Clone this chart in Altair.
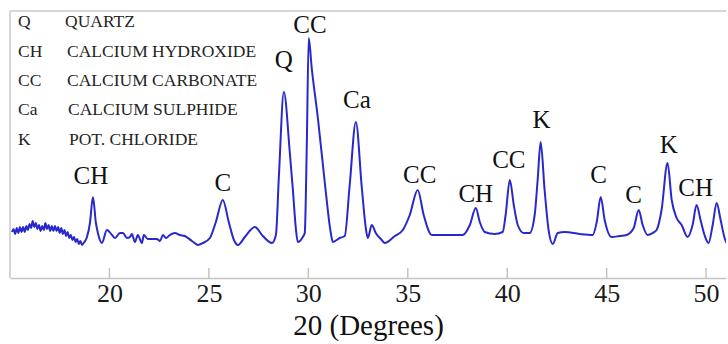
import altair as alt
import pandas as pd

# ---- data (2-theta in degrees, relative intensity) ----
two_theta = [
    15.10, 15.18, 15.26, 15.34, 15.42, 15.50, 15.58, 15.66, 15.74, 15.82,
    15.90, 15.98, 16.06, 16.14, 16.22, 16.30, 16.38, 16.46, 16.54, 16.62,
    16.70, 16.78, 16.86, 16.94, 17.02, 17.10, 17.18, 17.26, 17.34, 17.42,
    17.50, 17.58, 17.66, 17.74, 17.82, 17.90, 17.98, 18.06, 18.14, 18.22,
    18.30, 18.38, 18.46, 18.54, 18.62, 18.70, 18.78, 18.87,
    19.02, 19.17, 19.32, 19.42, 19.52, 19.62,
    19.87, 20.13, 20.28, 20.53, 20.68, 20.88, 21.03, 21.13, 21.28, 21.43,
    21.63, 21.73, 21.93, 22.39, 22.54, 22.69, 22.84, 23.04, 23.29, 23.54,
    23.79, 24.15, 24.45, 24.70, 25.05, 25.35, 25.70, 26.00, 26.26, 26.46,
    26.81, 27.31, 27.71, 28.17, 28.37, 28.52, 28.77, 29.07, 29.22, 29.37,
    29.47, 29.72, 29.82, 29.92, 30.02, 30.17, 30.48, 30.83, 31.13, 31.23,
    31.58, 31.83, 32.08, 32.39, 32.69, 32.89, 32.99, 33.19, 33.39, 33.69,
    33.84, 34.35, 34.75, 35.10, 35.50, 35.80, 36.21, 37.11, 37.76, 38.12,
    38.42, 38.62, 38.87, 39.37, 39.77, 39.92, 40.13, 40.33, 40.53, 40.83,
    41.13, 41.38, 41.53, 41.68, 41.88, 42.08, 42.29, 42.54, 42.89, 43.64,
    44.30, 44.50, 44.70, 44.90, 45.25, 45.65, 46.00, 46.36, 46.61, 46.81,
    47.06, 47.31, 47.51, 47.76, 48.06, 48.27, 48.52, 48.77, 49.07, 49.32,
    49.52, 49.72, 49.92, 50.12, 50.33, 50.53, 50.73, 50.93, 51.08,
]
intensity = [
    46, 49, 44, 50, 45, 51, 46, 51, 46, 52,
    48, 54, 50, 57, 51, 55, 49, 53, 47, 52,
    48, 55, 49, 53, 47, 52, 47, 52, 47, 51,
    45, 50, 44, 48, 42, 46, 40, 43, 38, 41,
    36, 39, 34, 37, 33, 35, 37, 41,
    55, 81, 55, 45, 38, 35,
    48, 43, 40, 45, 45, 40, 41, 44, 36, 43,
    35, 43, 39, 39, 37, 43, 40, 43, 45, 43,
    42, 37, 33, 35, 40, 56, 78, 56, 38, 33,
    41, 51, 42, 35, 43, 102, 186, 125, 89, 50,
    36, 41, 45, 130, 240, 210, 160, 95, 45, 36,
    40, 42, 93, 156, 90, 50, 40, 53, 45, 38,
    35, 42, 48, 63, 88, 63, 43, 43, 43, 53,
    70, 56, 46, 44, 46, 63, 98, 73, 53, 45,
    45, 63, 98, 136, 88, 48, 34, 45, 46, 44,
    43, 56, 81, 58, 41, 42, 43, 50, 68, 53,
    43, 45, 48, 68, 115, 78, 60, 53, 41, 53,
    73, 58, 43, 35, 53, 75, 58, 40, 33,
]

peak_labels = ["CH", "C", "Q", "CC", "Ca", "CC", "CH", "CC", "K", "C", "C", "K", "CH"]
label_theta = [19.07, 25.70, 28.77, 30.08, 32.44, 35.60, 38.42, 40.08, 41.73, 44.60, 46.36, 48.12, 49.47]
label_level = [102, 95, 218, 253, 178, 103, 84, 118, 158, 103, 83, 133, 90]

key_abbr = ["Q", "CH", "CC", "Ca", "K"]
key_name = ["QUARTZ", "CALCIUM HYDROXIDE", "CALCIUM CARBONATE", "CALCIUM SULPHIDE", "POT. CHLORIDE"]

tick_values = [20, 25, 30, 35, 40, 45, 50]

# ---- layout ----
W, H = 716, 267
FONT = "Liberation Serif"
LINE_COLOR = "#2828cc"

xscale = alt.Scale(domain=[15, 51], nice=False, zero=False)
yscale = alt.Scale(domain=[0, H], nice=False, zero=False)

df = pd.DataFrame({"theta": two_theta, "I": intensity})
lab = pd.DataFrame({"theta": label_theta, "I": label_level, "t": peak_labels})
ticks = pd.DataFrame({"v": tick_values})

line = alt.Chart(df).mark_line(
    color=LINE_COLOR, strokeWidth=2, interpolate="monotone", clip=True
).encode(
    x=alt.X("theta:Q", scale=xscale,
            axis=alt.Axis(values=tick_values, ticks=False, grid=False,
                          domainColor="#c4c4c4", domainWidth=1.5,
                          labelFont=FONT, labelFontSize=26, labelColor="#1a1a1a",
                          labelPadding=2,
                          title="20 (Degrees)", titleFont=FONT, titleFontSize=29,
                          titleFontWeight="normal", titleColor="#111",
                          titlePadding=5)),
    y=alt.Y("I:Q", scale=yscale, axis=None),
)

tick_marks = alt.Chart(ticks).mark_rule(color="#c4c4c4", strokeWidth=1.5).encode(
    x=alt.X("v:Q", scale=xscale),
    y=alt.value(H - 10),
    y2=alt.value(H),
)

top_border = alt.Chart(ticks).mark_rule(color="#d4d4d4", strokeWidth=1.5).encode(
    x=alt.value(0), x2=alt.value(W), y=alt.value(0)
)
left_border = alt.Chart(ticks).mark_rule(color="#d4d4d4", strokeWidth=1.5).encode(
    x=alt.value(0), y=alt.value(0), y2=alt.value(H)
)

peak_text = alt.Chart(lab).mark_text(
    font=FONT, fontSize=25, color="#111", baseline="middle", align="center"
).encode(
    x=alt.X("theta:Q", scale=xscale),
    y=alt.Y("I:Q", scale=yscale),
    text="t:N",
)

key_rows_y = [11, 41, 70, 99, 129]
key_name_x = [55, 57, 57, 58, 59]
key_layers = []
key_df = pd.DataFrame({"a": key_abbr, "n": key_name})
for i in range(len(key_abbr)):
    row = key_df.iloc[[i]]
    key_layers.append(
        alt.Chart(row).mark_text(font=FONT, fontSize=17.5, color="#242424",
                                 align="left", baseline="middle").encode(
            x=alt.value(8), y=alt.value(key_rows_y[i]), text="a:N")
    )
    key_layers.append(
        alt.Chart(row).mark_text(font=FONT, fontSize=17.5, color="#242424",
                                 align="left", baseline="middle").encode(
            x=alt.value(key_name_x[i]), y=alt.value(key_rows_y[i]), text="n:N")
    )

chart = alt.layer(
    top_border, left_border, tick_marks, line, peak_text, *key_layers
).properties(
    width=W, height=H,
    autosize=alt.AutoSizeParams(type="none"),
    padding={"left": 10, "top": 11, "right": 2, "bottom": 66},
).configure_view(stroke=None)

chart.save("out.html", embed_options={"renderer": "svg", "actions": False})
